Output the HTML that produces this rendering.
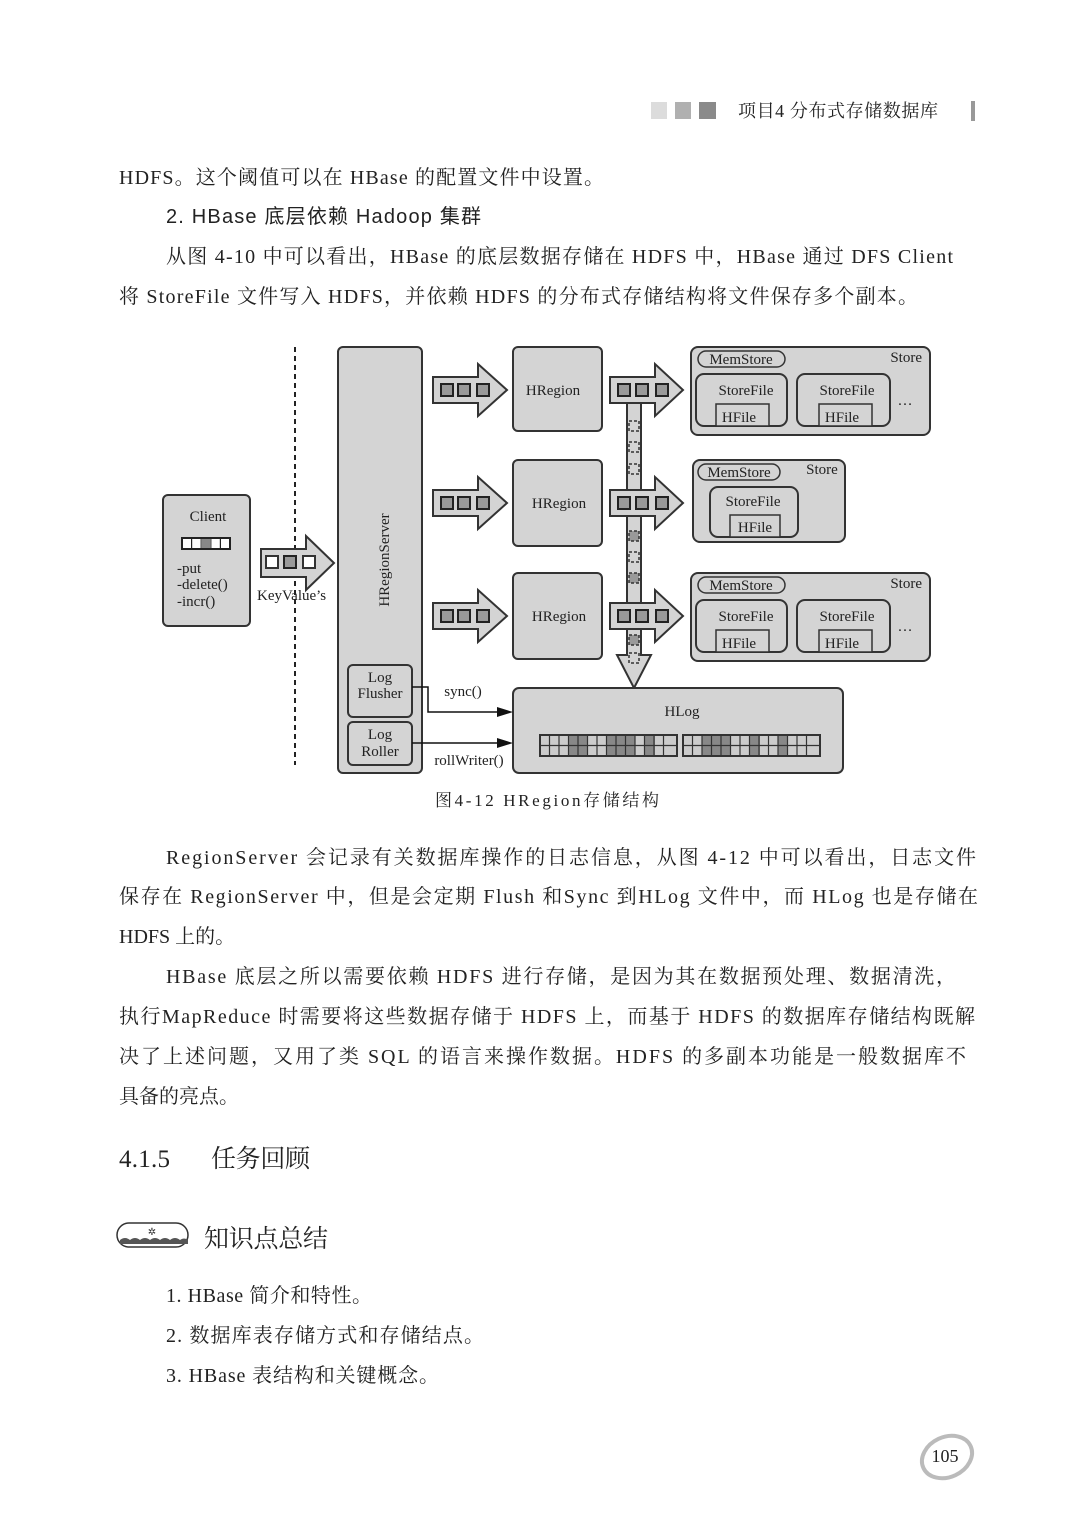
<!DOCTYPE html>
<html><head><meta charset="utf-8"><style>
html,body{margin:0;padding:0;background:#fff}
svg{display:block}
.t{font-family:"Liberation Serif","Noto Serif CJK SC",serif;fill:#222}
.s{font-family:"Liberation Sans","Noto Sans CJK SC",sans-serif;fill:#222}
.d{font-family:"Liberation Serif","Noto Serif CJK SC",serif;fill:#222;font-size:15px}
.b{fill:#d4d4d4;stroke:#333;stroke-width:2}
.w{fill:#fff;stroke:#333;stroke-width:1.5}
.q{fill:#999;stroke:#222;stroke-width:2}
</style></head><body>
<svg width="1092" height="1536" viewBox="0 0 1092 1536" xmlns="http://www.w3.org/2000/svg">
<rect x="651" y="102" width="16" height="17" fill="#dcdcdc"/>
<rect x="675" y="102" width="16" height="17" fill="#b0b0b0"/>
<rect x="699" y="102" width="17" height="17" fill="#8a8a8a"/>
<text class="t" x="738" y="117" font-size="18" textLength="200" fill="#444">项目4 分布式存储数据库</text>
<rect x="971" y="101" width="4" height="20" fill="#999"/>

<text class="t" x="119" y="184" font-size="20" textLength="485">HDFS。这个阈值可以在 HBase 的配置文件中设置。</text>
<text class="s" x="166" y="223" font-size="20" textLength="315">2. HBase 底层依赖 Hadoop 集群</text>
<text class="t" x="166" y="263" font-size="20" textLength="787">从图 4-10 中可以看出，HBase 的底层数据存储在 HDFS 中，HBase 通过 DFS Client</text>
<text class="t" x="119" y="303" font-size="20" textLength="799">将 StoreFile 文件写入 HDFS，并依赖 HDFS 的分布式存储结构将文件保存多个副本。</text>

<line x1="295" y1="347" x2="295" y2="765" stroke="#222" stroke-width="2" stroke-dasharray="5,4"/>
<rect class="b" x="163" y="495" width="87" height="131" rx="5"/>
<text class="d" x="208" y="521" text-anchor="middle">Client</text>
<rect x="182" y="538" width="48" height="11" fill="#fff" stroke="#222" stroke-width="2"/>
<g stroke="#222" stroke-width="1.2"><line x1="191.6" y1="538" x2="191.6" y2="549"/><line x1="201.2" y1="538" x2="201.2" y2="549"/><line x1="210.8" y1="538" x2="210.8" y2="549"/><line x1="220.4" y1="538" x2="220.4" y2="549"/></g>
<rect x="201.2" y="539" width="9.6" height="9" fill="#888"/>
<text class="d" x="177" y="573">-put</text>
<text class="d" x="177" y="589">-delete()</text>
<text class="d" x="177" y="606">-incr()</text>

<polygon class="b" points="261,549 306,549 306,536 334,563 306,590 306,577 261,577"/>
<rect class="w" x="266" y="556" width="12" height="12" style="stroke-width:2"/><rect class="q" x="284" y="556" width="12" height="12"/><rect class="w" x="303" y="556" width="12" height="12" style="stroke-width:2"/>
<text class="d" x="257" y="600">KeyValue’s</text>

<rect class="b" x="338" y="347" width="84" height="426" rx="5"/>
<text class="d" x="0" y="0" font-size="16" text-anchor="middle" transform="translate(389,560) rotate(-90)">HRegionServer</text>
<rect class="b" x="348" y="665" width="64" height="52" rx="5"/>
<text class="d" x="380" y="682" text-anchor="middle">Log</text><text class="d" x="380" y="698" text-anchor="middle">Flusher</text>
<rect class="b" x="348" y="722" width="64" height="43" rx="5"/>
<text class="d" x="380" y="739" text-anchor="middle">Log</text><text class="d" x="380" y="756" text-anchor="middle">Roller</text>

<g id="arr">
<polygon class="b" points="433,377 478,377 478,364 507,390 478,416 478,403 433,403"/>
<rect class="q" x="441" y="384" width="12" height="12"/><rect class="q" x="458" y="384" width="12" height="12"/><rect class="q" x="477" y="384" width="12" height="12"/>
</g>
<use href="#arr" y="113"/><use href="#arr" y="226"/>

<rect class="b" x="513" y="347" width="89" height="84" rx="5"/>
<text class="d" x="553" y="395" text-anchor="middle">HRegion</text>
<rect class="b" x="513" y="460" width="89" height="86" rx="5"/>
<text class="d" x="559" y="508" text-anchor="middle">HRegion</text>
<rect class="b" x="513" y="573" width="89" height="86" rx="5"/>
<text class="d" x="559" y="621" text-anchor="middle">HRegion</text>

<polygon class="b" points="627,400 641,400 641,655 651,655 634,688 617,655 627,655"/>
<g fill="none" stroke="#333" stroke-width="1.5" stroke-dasharray="3,2">
<rect x="629" y="421" width="10" height="10"/><rect x="629" y="442" width="10" height="10"/><rect x="629" y="464" width="10" height="10"/>
<rect x="629" y="531" width="10" height="10" fill="#999"/><rect x="629" y="552" width="10" height="10"/><rect x="629" y="573" width="10" height="10" fill="#999"/>
<rect x="629" y="635" width="10" height="10" fill="#999"/><rect x="629" y="653" width="10" height="10"/>
</g>
<g id="arr2">
<polygon class="b" points="610,377 655,377 655,364 683,390 655,416 655,403 610,403"/>
<rect class="q" x="618" y="384" width="12" height="12"/><rect class="q" x="636" y="384" width="12" height="12"/><rect class="q" x="656" y="384" width="12" height="12"/>
</g>
<use href="#arr2" y="113"/><use href="#arr2" y="226"/>

<g id="st">
<rect class="b" x="691" y="347" width="239" height="88" rx="7"/>
<rect class="b" x="698" y="351" width="87" height="16" rx="8" style="stroke-width:1.5"/>
<text class="d" x="741" y="364" text-anchor="middle">MemStore</text>
<text class="d" x="922" y="362" text-anchor="end">Store</text>
<rect class="b" x="696" y="374" width="91" height="52" rx="8"/>
<text class="d" x="746" y="395" text-anchor="middle">StoreFile</text>
<rect class="b" x="716" y="404" width="53" height="22" style="stroke-width:1.5"/>
<text class="d" x="739" y="422" text-anchor="middle">HFile</text>
<rect class="b" x="797" y="374" width="93" height="52" rx="8"/>
<text class="d" x="847" y="395" text-anchor="middle">StoreFile</text>
<rect class="b" x="819" y="404" width="53" height="22" style="stroke-width:1.5"/>
<text class="d" x="842" y="422" text-anchor="middle">HFile</text>
<text class="d" x="905" y="405" text-anchor="middle" font-size="12">…</text>
</g>
<use href="#st" y="226"/>
<rect class="b" x="693" y="460" width="152" height="82" rx="7"/>
<rect class="b" x="698" y="464" width="82" height="16" rx="8" style="stroke-width:1.5"/>
<text class="d" x="739" y="477" text-anchor="middle">MemStore</text>
<text class="d" x="822" y="474" text-anchor="middle">Store</text>
<rect class="b" x="710" y="487" width="88" height="50" rx="8"/>
<text class="d" x="753" y="506" text-anchor="middle">StoreFile</text>
<rect class="b" x="730" y="515" width="50" height="22" style="stroke-width:1.5"/>
<text class="d" x="755" y="532" text-anchor="middle">HFile</text>

<rect class="b" x="513" y="688" width="330" height="85" rx="6"/>
<text class="d" x="682" y="716" text-anchor="middle">HLog</text>
<g stroke="#333" stroke-width="1.2">
<rect x="540" y="735" width="137" height="21" fill="#ccc" stroke-width="2"/>
<rect x="683" y="735" width="137" height="21" fill="#ccc" stroke-width="2"/>
<rect x="569" y="736" width="19" height="19" fill="#888" stroke="none"/><rect x="607" y="736" width="28" height="19" fill="#888" stroke="none"/><rect x="645" y="736" width="10" height="19" fill="#888" stroke="none"/>
<rect x="702" y="736" width="28" height="19" fill="#888" stroke="none"/><rect x="750" y="736" width="10" height="19" fill="#888" stroke="none"/><rect x="778" y="736" width="10" height="19" fill="#888" stroke="none"/>
<line x1="540" y1="745.5" x2="677" y2="745.5"/><line x1="683" y1="745.5" x2="820" y2="745.5"/>
<path d="M549.5 735v21M559 735v21M568.5 735v21M578 735v21M587.5 735v21M597 735v21M606.5 735v21M616 735v21M625.5 735v21M635 735v21M644.5 735v21M654 735v21M663.5 735v21M692.5 735v21M702 735v21M711.5 735v21M721 735v21M730.5 735v21M740 735v21M749.5 735v21M759 735v21M768.5 735v21M778 735v21M787.5 735v21M797 735v21M806.5 735v21"/>
</g>
<polyline points="412,687 428,687 428,712 503,712" fill="none" stroke="#111" stroke-width="1.5"/>
<polygon points="513,712 497,707 497,717" fill="#111"/>
<line x1="412" y1="743" x2="503" y2="743" stroke="#111" stroke-width="1.5"/>
<polygon points="513,743 497,738 497,748" fill="#111"/>
<text class="d" x="463" y="696" text-anchor="middle">sync()</text>
<text class="d" x="469" y="765" text-anchor="middle">rollWriter()</text>

<text class="t" x="435" y="806" font-size="17" textLength="224" fill="#444">图4-12  HRegion存储结构</text>

<text class="t" x="166" y="864" font-size="20" textLength="810">RegionServer 会记录有关数据库操作的日志信息，从图 4-12 中可以看出，日志文件</text>
<text class="t" x="119" y="903" font-size="20" textLength="859">保存在 RegionServer 中，但是会定期 Flush 和Sync 到HLog 文件中，而 HLog 也是存储在</text>
<text class="t" x="119" y="943" font-size="20">HDFS 上的。</text>
<text class="t" x="166" y="983" font-size="20" textLength="790">HBase 底层之所以需要依赖 HDFS 进行存储，是因为其在数据预处理、数据清洗，</text>
<text class="t" x="119" y="1023" font-size="20" textLength="856">执行MapReduce 时需要将这些数据存储于 HDFS 上，而基于 HDFS 的数据库存储结构既解</text>
<text class="t" x="119" y="1063" font-size="20" textLength="847">决了上述问题，又用了类 SQL 的语言来操作数据。HDFS 的多副本功能是一般数据库不</text>
<text class="t" x="119" y="1103" font-size="20">具备的亮点。</text>

<text class="t" x="119" y="1167" font-size="25" fill="#444" textLength="51">4.1.5</text>
<text class="t" x="211" y="1167" font-size="25" fill="#444" textLength="99">任务回顾</text>

<rect x="117" y="1223" width="71" height="24" rx="12" fill="#fff" stroke="#333" stroke-width="1.5"/>
<path d="M120 1240 q5 -4 10 0 q5 -4 10 0 q5 -4 10 0 q5 -4 10 0 q5 -4 10 0 q5 -4 10 0 q4 -3 8 0 v4 h-68z" fill="#555"/>
<text x="152" y="1235" font-size="10" text-anchor="middle" fill="#333">✲</text>
<text class="t" x="204" y="1247" font-size="25" fill="#555" textLength="124">知识点总结</text>

<text class="t" x="166" y="1302" font-size="20" textLength="206">1. HBase 简介和特性。</text>
<text class="t" x="166" y="1342" font-size="20" textLength="318">2. 数据库表存储方式和存储结点。</text>
<text class="t" x="166" y="1382" font-size="20" textLength="273">3. HBase 表结构和关键概念。</text>

<ellipse cx="947" cy="1457" rx="26" ry="20" fill="none" stroke="#bbb" stroke-width="4" transform="rotate(-25 947 1457)"/>
<text class="t" x="945" y="1462" font-size="18" text-anchor="middle">105</text>
</svg>
</body></html>
